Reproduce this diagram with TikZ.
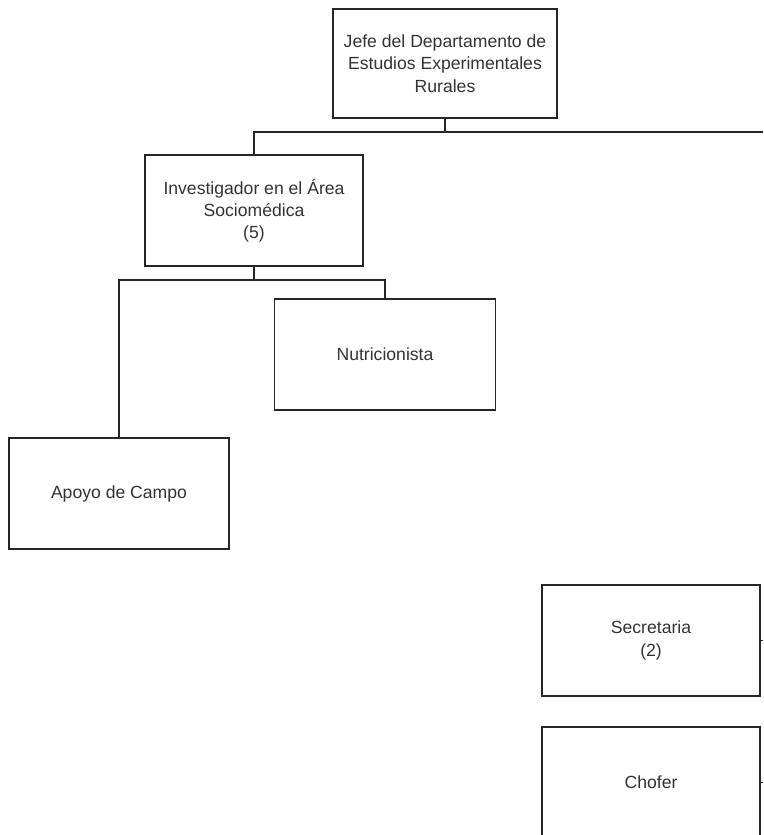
\documentclass[tikz,border=0pt]{standalone}
\usepackage{fontspec}
\setmainfont{Liberation Sans}
\usepackage{tikz}

\begin{document}
\begin{tikzpicture}[
        x=1pt, y=-1pt,
        every node/.style={align=center},
        puesto/.style={rectangle, draw=black!85, line width=1.2pt, text=black!80,
            minimum width=220pt, minimum height=111pt, inner sep=0pt,
            font=\fontsize{17.6}{22.3}\selectfont},
        linea/.style={draw=black!85, line width=1.2pt},
    ]
    \clip (0,0) rectangle (763,835);
    \fill[white] (0,0) rectangle (763,835);
    \node[puesto, minimum width=224pt, minimum height=109pt] (jefe) at (445,63.5)
        {Jefe del Departamento de\\Estudios Experimentales\\Rurales};
    \node[puesto, minimum width=218pt] (invest) at (254,210.5)
        {Investigador en el Área\\Sociomédica\\(5)};
    \node[puesto, minimum width=221pt] (nutri) at (385,354.5) {Nutricionista};
    \node[puesto] (apoyo) at (119,493.5) {Apoyo de Campo};
    \node[puesto, minimum width=218pt] (secre) at (651,640.5) {Secretaria\\(2)};
    \node[puesto, minimum width=218pt] (chofer) at (651,782.5) {Chofer};

    % lineas de mando
    \coordinate (bus1) at (763,132);
    \coordinate (bus2) at (254,280);
    \coordinate (sal1) at (763,640.5);
    \coordinate (sal2) at (763,782.5);
    \draw[linea] (jefe.south) -- (jefe.south |- bus1);
    \draw[linea] (invest.north) |- (bus1);
    \draw[linea] (invest.south) -- (bus2);
    \draw[linea] (apoyo.north) |- (bus2) -| (nutri.north);
    \draw[linea] (secre.east) -- (sal1);
    \draw[linea] (chofer.east) -- (sal2);
\end{tikzpicture}
\end{document}
